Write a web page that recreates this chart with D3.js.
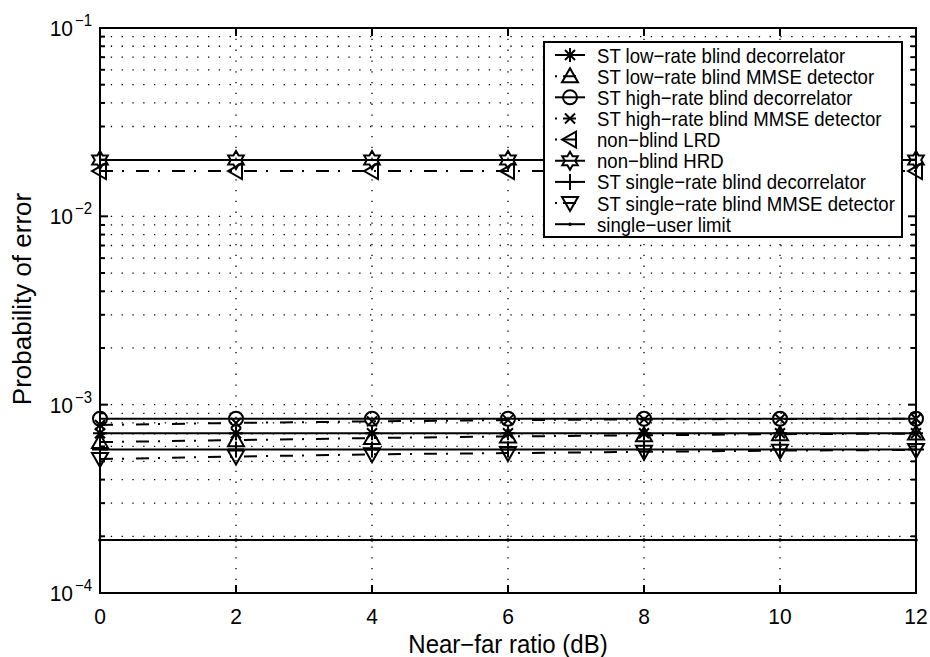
<!DOCTYPE html>
<html>
<head>
<meta charset="utf-8">
<script src="https://cdn.jsdelivr.net/npm/d3@7"></script>
<style>
  body { margin: 0; background: #fff; }
  svg { display: block; font-family: 'Liberation Sans', Arial, Helvetica, sans-serif; }
</style>
</head>
<body>
<div id="chart"></div>
<script>
// near-far ratio (dB)
const nearFar = [0, 2, 4, 6, 8, 10, 12];

// probability of error
const lowRateDec   = [7.05e-4, 7.05e-4, 7.05e-4, 7.05e-4, 7.05e-4, 7.05e-4, 7.05e-4];
const lowRateMmse  = [6.33e-4, 6.48e-4, 6.65e-4, 6.78e-4, 6.88e-4, 6.97e-4, 7.02e-4];
const highRateDec  = [8.42e-4, 8.42e-4, 8.42e-4, 8.42e-4, 8.42e-4, 8.42e-4, 8.42e-4];
const highRateMmse = [7.8e-4, 8.0e-4, 8.15e-4, 8.28e-4, 8.35e-4, 8.4e-4, 8.42e-4];
const nonBlindLrd  = [0.0174, 0.0174, 0.0174, 0.0174, 0.0174, 0.0174, 0.0174];
const nonBlindHrd  = [0.0199, 0.0199, 0.0199, 0.0199, 0.0199, 0.0199, 0.0199];
const singleDec    = [5.78e-4, 5.78e-4, 5.78e-4, 5.78e-4, 5.78e-4, 5.78e-4, 5.78e-4];
const singleMmse   = [5.14e-4, 5.3e-4, 5.45e-4, 5.53e-4, 5.62e-4, 5.7e-4, 5.75e-4];
const singleUser   = [1.91e-4, 1.91e-4, 1.91e-4, 1.91e-4, 1.91e-4, 1.91e-4, 1.91e-4];

const xTicks = [0, 2, 4, 6, 8, 10, 12];
const yDecades = [1e-4, 1e-3, 1e-2, 1e-1];
const yExponents = ['\u22124', '\u22123', '\u22122', '\u22121'];

const seriesNames = [
  'ST low\u2212rate blind decorrelator',
  'ST low\u2212rate blind MMSE detector',
  'ST high\u2212rate blind decorrelator',
  'ST high\u2212rate blind MMSE detector',
  'non\u2212blind LRD',
  'non\u2212blind HRD',
  'ST single\u2212rate blind decorrelator',
  'ST single\u2212rate blind MMSE detector',
  'single\u2212user limit'
];
const seriesValues = [lowRateDec, lowRateMmse, highRateDec, highRateMmse, nonBlindLrd,
  nonBlindHrd, singleDec, singleMmse, singleUser];
const seriesMarkers = ['star', 'tri-up', 'circle', 'cross', 'tri-left', 'hexagram', 'plus', 'tri-down', 'point'];
const seriesDashed = [false, true, false, true, true, false, false, true, false];

const width = 930;
const height = 657;
const plot = { left: 100, right: 916, top: 28, bottom: 593 };

const DASHDOT = '13,9,2,12';

const svg = d3.select('#chart')
  .append('svg')
  .attr('width', width)
  .attr('height', height);

const xScale = d3.scaleLinear().domain([0, 12]).range([plot.left, plot.right]);
const yScale = d3.scaleLog().domain([1e-4, 1e-1]).range([plot.bottom, plot.top]);

// minor log ticks 2..9 in each decade
const minorTicks = [];
yDecades.slice(0, 3).forEach((d) => {
  [2, 3, 4, 5, 6, 7, 8, 9].forEach((m) => minorTicks.push(d * m));
});
const allYGrid = yDecades.concat(minorTicks);

// dotted grid
const grid = svg.append('g').attr('class', 'grid')
  .attr('stroke', '#000')
  .attr('stroke-width', 1.3)
  .attr('stroke-dasharray', '1.3,9.5');

grid.selectAll('line.h')
  .data(allYGrid.filter((d) => d > 1e-4 && d < 1e-1))
  .join('line')
  .attr('class', 'h')
  .attr('x1', plot.left).attr('x2', plot.right)
  .attr('y1', (d) => yScale(d)).attr('y2', (d) => yScale(d));

grid.selectAll('line.v')
  .data(xTicks.slice(1, -1))
  .join('line')
  .attr('class', 'v')
  .attr('x1', (d) => xScale(d)).attr('x2', (d) => xScale(d))
  .attr('y1', plot.top).attr('y2', plot.bottom);

// marker shapes, drawn around (0,0)
function drawMarker(g, type) {
  const st = { fill: 'none', stroke: '#000', 'stroke-width': 2 };
  let el;
  if (type === 'circle') {
    el = g.append('circle').attr('r', 7);
  } else if (type === 'tri-up') {
    el = g.append('path').attr('d', 'M0,-8 L8,6 L-8,6 Z');
  } else if (type === 'tri-down') {
    el = g.append('path').attr('d', 'M0,8 L8,-6 L-8,-6 Z');
  } else if (type === 'tri-left') {
    el = g.append('path').attr('d', 'M-8,0 L6,-8 L6,8 Z');
  } else if (type === 'plus') {
    el = g.append('path').attr('d', 'M-8,0 H8 M0,-8 V8');
  } else if (type === 'cross') {
    el = g.append('path').attr('d', 'M-5,-5 L5,5 M-5,5 L5,-5');
  } else if (type === 'star') {
    el = g.append('path').attr('d', 'M-7,0 H7 M0,-7 V7 M-5,-5 L5,5 M-5,5 L5,-5');
  } else if (type === 'hexagram') {
    const pts = d3.range(12).map((i) => {
      const r = i % 2 === 0 ? 9 : 9 / Math.sqrt(3);
      const a = -Math.PI / 2 + i * Math.PI / 6;
      return [r * Math.cos(a), r * Math.sin(a)];
    });
    el = g.append('path').attr('d', 'M' + pts.join('L') + 'Z');
  } else {
    el = g.append('circle').attr('r', 1.8).attr('fill', '#000');
    return;
  }
  Object.entries(st).forEach(([k, v]) => el.attr(k, v));
}

// series lines and markers
const line = d3.line()
  .x((d) => xScale(d[0]))
  .y((d) => yScale(d[1]));

const series = svg.append('g').attr('class', 'series');

seriesValues.forEach((vals, i) => {
  const pts = nearFar.map((x, j) => [x, vals[j]]);
  series.append('path')
    .datum(pts)
    .attr('d', line)
    .attr('fill', 'none')
    .attr('stroke', '#000')
    .attr('stroke-width', 2)
    .attr('stroke-dasharray', seriesDashed[i] ? DASHDOT : null);

  pts.forEach((p) => {
    const g = series.append('g')
      .attr('transform', `translate(${xScale(p[0])},${yScale(p[1])})`);
    drawMarker(g, seriesMarkers[i]);
  });
});

// axes box and ticks
const axes = svg.append('g').attr('stroke', '#000').attr('stroke-width', 2);

axes.append('rect')
  .attr('x', plot.left).attr('y', plot.top)
  .attr('width', plot.right - plot.left)
  .attr('height', plot.bottom - plot.top)
  .attr('fill', 'none');

xTicks.forEach((t) => {
  const x = xScale(t);
  axes.append('line').attr('x1', x).attr('x2', x).attr('y1', plot.bottom).attr('y2', plot.bottom - 8);
  axes.append('line').attr('x1', x).attr('x2', x).attr('y1', plot.top).attr('y2', plot.top + 8);
});

yDecades.forEach((t) => {
  const y = yScale(t);
  axes.append('line').attr('x1', plot.left).attr('x2', plot.left + 8).attr('y1', y).attr('y2', y);
  axes.append('line').attr('x1', plot.right).attr('x2', plot.right - 8).attr('y1', y).attr('y2', y);
});

minorTicks.forEach((t) => {
  const y = yScale(t);
  axes.append('line').attr('x1', plot.left).attr('x2', plot.left + 5).attr('y1', y).attr('y2', y);
  axes.append('line').attr('x1', plot.right).attr('x2', plot.right - 5).attr('y1', y).attr('y2', y);
});

// tick labels (text is a bit taller than wide in the original, hence the y stretch)
const labels = svg.append('g').attr('fill', '#000');

labels.selectAll('text.xt')
  .data(xTicks)
  .join('text')
  .attr('class', 'xt')
  .attr('transform', (d) => `translate(${xScale(d)},624) scale(1,1.07)`)
  .attr('text-anchor', 'middle')
  .attr('font-size', 21)
  .text((d) => d);

yDecades.forEach((d, i) => {
  const y = yScale(d);
  labels.append('text')
    .attr('transform', `translate(73,${y + 8}) scale(1,1.07)`)
    .attr('text-anchor', 'end')
    .attr('font-size', 21)
    .text('10');
  labels.append('text')
    .attr('transform', `translate(75,${y - 2}) scale(1,1.1)`)
    .attr('font-size', 15)
    .text(yExponents[i]);
});

// axis titles
labels.append('text')
  .attr('transform', `translate(${(plot.left + plot.right) / 2},653) scale(1,1.05)`)
  .attr('text-anchor', 'middle')
  .attr('font-size', 24)
  .text('Near\u2212far ratio (dB)');

labels.append('text')
  .attr('transform', 'translate(31,299) rotate(-90)')
  .attr('text-anchor', 'middle')
  .attr('font-size', 26)
  .text('Probability of error');

// legend
const legend = svg.append('g').attr('class', 'legend');
legend.append('rect')
  .attr('x', 544).attr('y', 42)
  .attr('width', 358).attr('height', 195)
  .attr('fill', '#fff')
  .attr('stroke', '#000')
  .attr('stroke-width', 2);

seriesNames.forEach((name, i) => {
  const cy = 55 + i * 21.15;
  legend.append('line')
    .attr('x1', 555).attr('x2', 585)
    .attr('y1', cy).attr('y2', cy)
    .attr('stroke', '#000')
    .attr('stroke-width', 2)
    .attr('stroke-dasharray', seriesDashed[i] ? '2,6,13,30' : null);
  const g = legend.append('g').attr('transform', `translate(570,${cy})`);
  drawMarker(g, seriesMarkers[i]);
  legend.append('text')
    .attr('transform', `translate(597,${cy + 7.5}) scale(1,1.1)`)
    .attr('font-size', 18.6)
    .text(name);
});
</script>
</body>
</html>
